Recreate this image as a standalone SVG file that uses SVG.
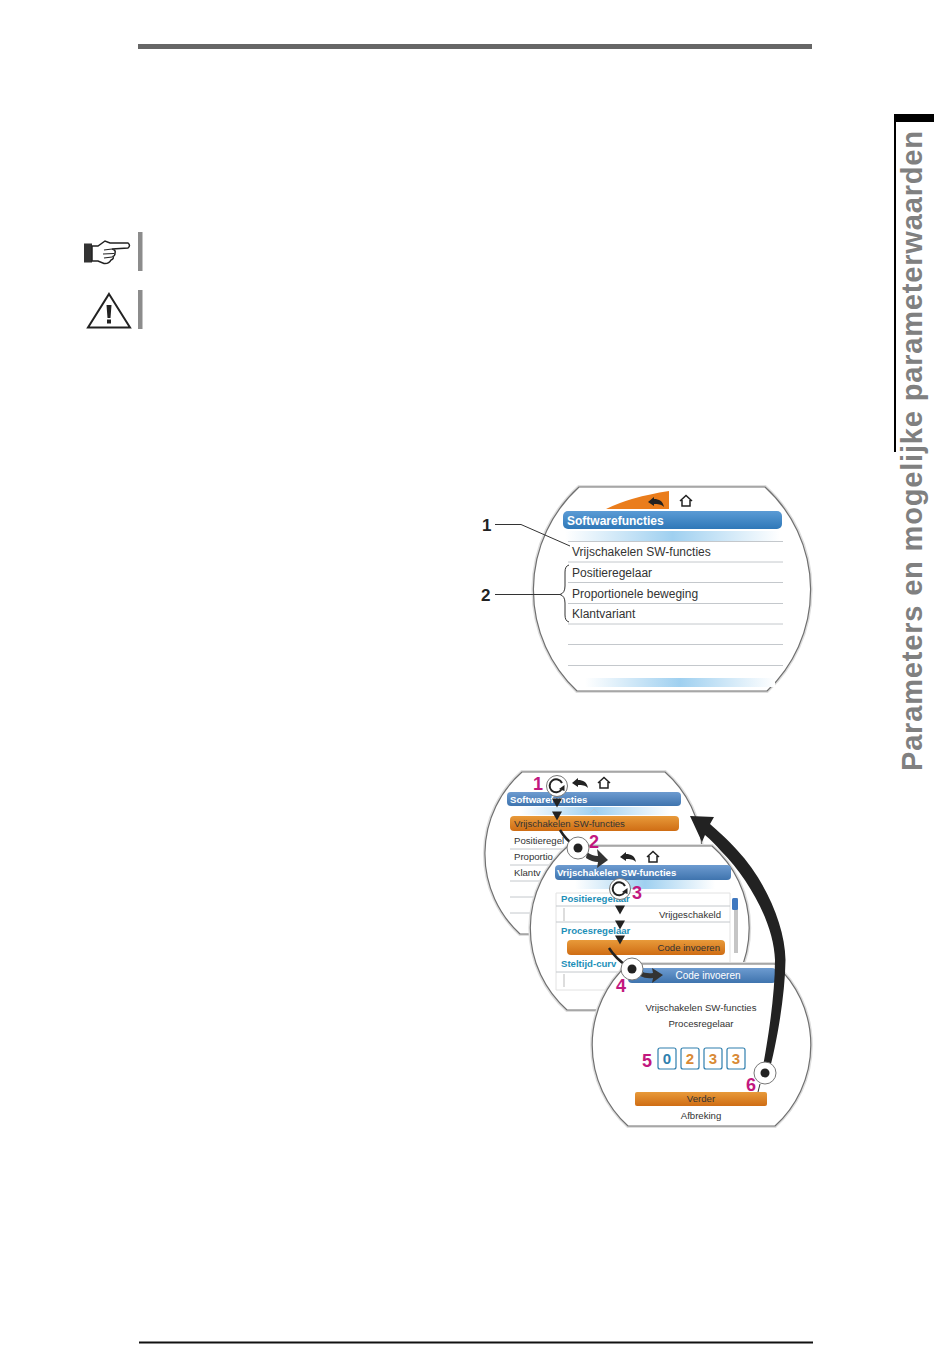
<svg xmlns="http://www.w3.org/2000/svg" width="950" height="1369" viewBox="0 0 950 1369">
<style>
text{font-family:"Liberation Sans",Arial,sans-serif}
.scr{fill:#fff;stroke:#707070;stroke-width:1.2}
.halo{fill:none;stroke:#dedede;stroke-width:4}
.rule{stroke:#c4c8cc;stroke-width:1}
.it{fill:#333;font-size:12px}
.s{fill:#333;font-size:9.6px}
.h{fill:#fff;font-weight:bold}
.tl{fill:#1d8fb8;font-size:9.6px;font-weight:bold}
.num{fill:#c2187f;font-weight:bold;font-size:18px}
.key{font-weight:bold;fill:#222;font-size:17px}
.lead{fill:none;stroke:#333;stroke-width:1}
.knob{fill:#fff;stroke:#777;stroke-width:1}
.dig{fill:#fff;stroke:#2f7fae;stroke-width:1.2}
</style>
<defs>
<linearGradient id="bl" x1="0" y1="0" x2="0" y2="1"><stop offset="0" stop-color="#6d9bd0"/><stop offset="1" stop-color="#3f74ae"/></linearGradient>
<linearGradient id="bm" x1="0" y1="0" x2="0" y2="1"><stop offset="0" stop-color="#5b9bd5"/><stop offset="1" stop-color="#2f78b8"/></linearGradient>
<linearGradient id="or" x1="0" y1="0" x2="0" y2="1"><stop offset="0" stop-color="#e89a3a"/><stop offset="1" stop-color="#cf6d14"/></linearGradient>
<linearGradient id="gl" x1="0" y1="0" x2="1" y2="0"><stop offset="0" stop-color="#fff"/><stop offset=".5" stop-color="#9fd0f0"/><stop offset="1" stop-color="#fff"/></linearGradient>
<path id="back" d="M-8 0 L-2 -5 L-2 -3 C3 -3 7 -1 8 5 C5 2 2 2 -2 2 L-2 4 Z" fill="#222"/>
<path id="home" d="M-6 0 L0 -5.500 L6 0 M-4 -1 V5 H4 V-1" fill="none" stroke="#222" stroke-width="1.500"/>
<path id="tri" d="M-5 -4.500 H5 L0 4.500 Z" fill="#222"/>
<g id="rot"><circle r="10.500" class="knob"/><path d="M4.500 3.500 A6.500 6.500 0 1 1 5 -3" fill="none" stroke="#222" stroke-width="2"/><path d="M2 3 L7.500 5 L7.500 -1 Z" fill="#222"/></g>
<g id="push"><circle r="11" class="knob"/><circle r="4.500" fill="#222"/></g>
<path id="o0" d="M579 487 H765 A139 139 0 0 1 767 691 H577 A139 139 0 0 1 579 487 Z"/>
<path id="o1" d="M522 772 H665 A109 109 0 0 1 667 934 H520 A109 109 0 0 1 522 772 Z"/>
<path id="o2" d="M568 846 H712 A109 109 0 0 1 712 1010 H567 A109 109 0 0 1 568 846 Z"/>
<path id="o3" d="M628 964 H775 A109.500 109.500 0 0 1 775 1126 H628 A109.500 109.500 0 0 1 628 964 Z"/>
</defs>
<rect width="950" height="1369" fill="#fff"/>

<g id="page-frame">
<rect x="138" y="44" width="674" height="5" fill="#666"/>
<rect x="139" y="1341.500" width="674" height="2" fill="#111"/>
<rect x="894" y="114" width="40" height="8" fill="#000"/>
<rect x="894" y="114" width="2" height="338" fill="#000"/>
<text transform="translate(922,771) rotate(-90)" font-size="29" font-weight="bold" fill="#808080" textLength="640">Parameters en mogelijke parameterwaarden</text>
</g>

<g id="note-icons">
<rect x="138" y="232" width="4.500" height="39" fill="#8c8c8c"/>
<rect x="138" y="290" width="4.500" height="39" fill="#8c8c8c"/>
<rect x="84" y="243.500" width="8" height="19" fill="#333"/>
<path d="M92 246 H98 L105 241 L110 243 L128 243 Q131 245.500 128 248 L112 249 Q116 250 115 253 Q115 256 113 256.500 Q114 259 111 260 Q109 264 104 263.500 L98 261 H92 Z" fill="#fff" stroke="#222" stroke-width="1.500"/>
<path d="M104 250 L112 249 M103 254 L114 253.500 M104 258 L112 257" fill="none" stroke="#222" stroke-width="1.200"/>
<path d="M109 294 L130 327.500 H88 Z" fill="#fff" stroke="#222" stroke-width="2"/>
<path d="M106.500 305 H111.500 L110.500 318 H107.500 Z M107 319.500 H111 V323.500 H107 Z" fill="#222"/>
</g>

<g id="display-main">
<use href="#o0" class="halo"/>
<use href="#o0" class="scr"/>
<path d="M606 509 Q630 497 669 491 V509 Z" fill="#ea7d1c"/>
<use href="#back" x="656" y="502"/>
<use href="#home" x="686" y="501"/>
<rect x="563" y="511" width="219" height="18" rx="5" fill="url(#bm)"/>
<text class="h" x="567" y="525" font-size="12">Softwarefuncties</text>
<rect x="565" y="531" width="215" height="10" fill="url(#gl)"/>
<line class="rule" x1="568" y1="541.500" x2="783" y2="541.500"/>
<line class="rule" x1="568" y1="562" x2="783" y2="562"/>
<line class="rule" x1="568" y1="582.500" x2="783" y2="582.500"/>
<line class="rule" x1="568" y1="603.500" x2="783" y2="603.500"/>
<line class="rule" x1="568" y1="624" x2="783" y2="624"/>
<line class="rule" x1="568" y1="644.500" x2="783" y2="644.500"/>
<line class="rule" x1="568" y1="665.500" x2="783" y2="665.500"/>
<rect x="585" y="678" width="190" height="9" fill="url(#gl)"/>
<text class="it" x="572" y="556">Vrijschakelen SW-functies</text>
<text class="it" x="572" y="577">Positieregelaar</text>
<text class="it" x="572" y="598">Proportionele beweging</text>
<text class="it" x="572" y="618">Klantvariant</text>
<path class="lead" d="M495 524.500 H521 L570 546"/>
<path class="lead" d="M495 594.500 H560 M569 565 Q565 566 565 572 V586 Q565 593 560 594.500 Q565 596 565 603 V615 Q565 621 569 622"/>
<text class="key" x="482" y="531">1</text>
<text class="key" x="481" y="601">2</text>
</g>

<g id="display-1">
<use href="#o1" class="halo"/>
<use href="#o1" class="scr"/>
<rect x="507" y="792" width="174" height="14" rx="4" fill="url(#bl)"/>
<text class="h" x="510" y="803" font-size="9.600">Softwarefuncties</text>
<rect x="520" y="807" width="150" height="8" fill="url(#gl)"/>
<path d="M590 813 L594 809 L598 813" fill="none" stroke="#b5c5d5" stroke-width="1"/>
<rect x="510" y="816" width="169" height="15" rx="4" fill="url(#or)"/>
<text class="s" x="514" y="827" fill="#4a3a20">Vrijschakelen SW-functies</text>
<text class="s" x="514" y="844">Positieregel</text>
<text class="s" x="514" y="860">Proportio</text>
<text class="s" x="514" y="876">Klantv</text>
<line class="rule" x1="510" y1="849" x2="640" y2="849"/>
<line class="rule" x1="510" y1="865" x2="640" y2="865"/>
<line class="rule" x1="510" y1="881" x2="640" y2="881"/>
<line class="rule" x1="510" y1="897" x2="640" y2="897"/>
<line class="rule" x1="510" y1="913" x2="640" y2="913"/>
<use href="#back" x="580" y="783"/>
<use href="#home" x="604" y="783"/>
</g>

<g id="display-2">
<use href="#o2" class="halo"/>
<use href="#o2" class="scr"/>
<rect x="555" y="865" width="176" height="15" rx="4" fill="url(#bl)"/>
<text class="h" x="557" y="876" font-size="9.600">Vrijschakelen SW-functies</text>
<rect x="575" y="880" width="140" height="9" fill="url(#gl)"/>
<path d="M556 893 H730 V990 H556 Z" fill="none" stroke="#e2e2e2"/>
<text class="tl" x="561" y="902">Positieregelaar</text>
<line class="rule" x1="556" y1="906" x2="730" y2="906"/>
<line x1="564" y1="908" x2="564" y2="921" stroke="#bbb"/>
<text class="s" x="721" y="918" text-anchor="end">Vrijgeschakeld</text>
<line class="rule" x1="556" y1="922" x2="730" y2="922"/>
<text class="tl" x="561" y="934">Procesregelaar</text>
<rect x="567" y="940" width="158" height="15" rx="4" fill="url(#or)"/>
<text class="s" x="720" y="951" text-anchor="end" fill="#4a3a20">Code invoeren</text>
<text class="tl" x="561" y="967">Steltijd-curv</text>
<line class="rule" x1="556" y1="972" x2="730" y2="972"/>
<line x1="564" y1="974" x2="564" y2="987" stroke="#bbb"/>
<rect x="734" y="898" width="4" height="55" fill="#c5c5c5"/>
<rect x="732" y="898" width="6" height="12" rx="1.500" fill="#3f78c0"/>
<use href="#back" x="628" y="857"/>
<use href="#home" x="653" y="857"/>
</g>

<g id="display-3">
<use href="#o3" class="halo"/>
<use href="#o3" class="scr"/>
<rect x="628" y="968" width="148" height="15" rx="4" fill="url(#bl)"/>
<text x="708" y="979" font-size="10" fill="#fff" text-anchor="middle">Code invoeren</text>
<text class="s" x="701" y="1011" text-anchor="middle">Vrijschakelen SW-functies</text>
<text class="s" x="701" y="1027" text-anchor="middle">Procesregelaar</text>
<rect class="dig" x="658" y="1048" width="18" height="21" rx="2"/>
<rect class="dig" x="681" y="1048" width="18" height="21" rx="2"/>
<rect class="dig" x="704" y="1048" width="18" height="21" rx="2"/>
<rect class="dig" x="727" y="1048" width="18" height="21" rx="2"/>
<g font-size="15" text-anchor="middle" font-weight="bold">
<text x="667" y="1064" fill="#2f7fae">0</text>
<text x="690" y="1064" fill="#d98a35">2</text>
<text x="713" y="1064" fill="#d98a35">3</text>
<text x="736" y="1064" fill="#d98a35">3</text>
</g>
<rect x="635" y="1092" width="132" height="14" rx="2" fill="url(#or)"/>
<text class="s" x="701" y="1102" text-anchor="middle" fill="#4a3a20">Verder</text>
<text class="s" x="701" y="1119" text-anchor="middle">Afbreking</text>
</g>

<g id="connectors">
<path d="M769 1072 C775 1050 785 1000 785.500 960 C785 925 765 880 737 850 C727 839 718 831 710 824 L714 817 L690 816 L702 842 L705 835 C711 840 716 845 721 851 C750 880 774 925 775 960 C775 1000 766 1050 762 1072 Z" fill="#222"/>
<use href="#rot" x="557" y="786"/>
<use href="#tri" x="557" y="803"/>
<use href="#tri" x="557" y="816"/>
<path d="M560 830 Q566 840 574 845" fill="none" stroke="#222" stroke-width="2.500"/>
<path d="M587 852 Q592 856 598 856 L597 849 L608 860 L597 868 L598 862 Q592 862 586 858 Z" fill="#333"/>
<use href="#push" x="578" y="848"/>
<use href="#rot" x="620" y="889"/>
<use href="#tri" x="620" y="910"/>
<use href="#tri" x="620" y="925"/>
<use href="#tri" x="620" y="940"/>
<path d="M609 948 Q616 959 627 966" fill="none" stroke="#222" stroke-width="2.500"/>
<path d="M640 971 Q646 974 653 973 L652 968 L663 975 L652 983 L653 978 Q646 979 640 976 Z" fill="#333"/>
<use href="#push" x="632" y="969"/>
<use href="#push" x="765" y="1073"/>
<line x1="760" y1="1084" x2="758" y2="1092" stroke="#333"/>
<text class="num" x="533" y="790">1</text>
<text class="num" x="589" y="848">2</text>
<text class="num" x="632" y="899">3</text>
<text class="num" x="616" y="992">4</text>
<text class="num" x="642" y="1067">5</text>
<text class="num" x="746" y="1091">6</text>
</g>
</svg>
